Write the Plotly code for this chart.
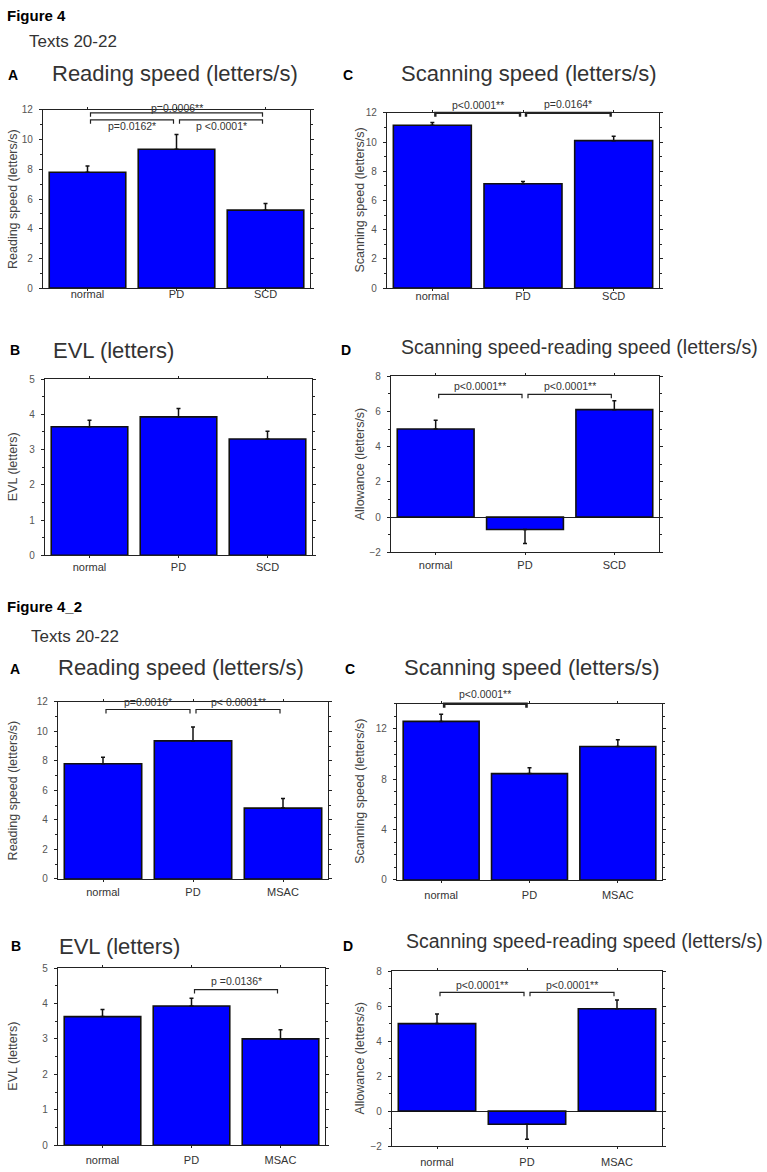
import plotly.graph_objects as go

# ---------------- data ----------------
CATS_SCD = ["normal", "PD", "SCD"]
CATS_MSAC = ["normal", "PD", "MSAC"]

READ_1 = [7.8, 9.35, 5.25]
READ_1_ERR = [0.42, 1.0, 0.45]
SCAN_1 = [11.15, 7.15, 10.1]
SCAN_1_ERR = [0.2, 0.15, 0.3]
EVL_1 = [3.65, 3.93, 3.3]
EVL_1_ERR = [0.18, 0.24, 0.22]
ALLOW_1 = [5.0, -0.7, 6.1]
ALLOW_1_ERR = [0.5, 0.8, 0.5]

READ_2 = [7.8, 9.35, 4.8]
READ_2_ERR = [0.45, 0.95, 0.65]
SCAN_2 = [12.6, 8.45, 10.6]
SCAN_2_ERR = [0.57, 0.47, 0.55]
EVL_2 = [3.63, 3.93, 3.0]
EVL_2_ERR = [0.2, 0.22, 0.26]
ALLOW_2 = [5.0, -0.75, 5.85]
ALLOW_2_ERR = [0.55, 0.85, 0.5]

P_READ_1 = [(0, 2, "p=0.0006**"), (0, 1, "p=0.0162*"), (1, 2, "p <0.0001*")]
P_SCAN_1 = [(0, 1, "p<0.0001**"), (1, 2, "p=0.0164*")]
P_ALLOW_1 = [(0, 1, "p<0.0001**"), (1, 2, "p<0.0001**")]
P_READ_2 = [(0, 1, "p=0.0016*"), (1, 2, "p< 0.0001**")]
P_SCAN_2 = [(0, 1, "p<0.0001**")]
P_EVL_2 = [(1, 2, "p =0.0136*")]
P_ALLOW_2 = [(0, 1, "p<0.0001**"), (1, 2, "p<0.0001**")]

# ---------------- layout helpers ----------------
W, H = 767, 1172
FONT = "Liberation Sans, Arial, sans-serif"


def fx(px):
    return px / W


def fy(py):
    return 1 - py / H


panels = [
    dict(cats=CATS_SCD, vals=READ_1, errs=READ_1_ERR, yr=[0, 12], dtick=2, minor=1,
         box=(43, 105, 310, 285), ytitle="Reading speed (letters/s)", side="L", xso=-6,
         br=P_READ_1, levels=[11.8, 11.33, 11.33], labs=[12.13, 10.9, 10.9], lw=1.2),
    dict(cats=CATS_SCD, vals=SCAN_1, errs=SCAN_1_ERR, yr=[0, 12], dtick=2, minor=1,
         box=(387, 108, 659, 285), ytitle="Scanning speed (letters/s)", side="R", xso=-4,
         br=P_SCAN_1, levels=[12.0, 12.0], labs=[12.55, 12.6], lw=2.4),
    dict(cats=CATS_SCD, vals=EVL_1, errs=EVL_1_ERR, yr=[0, 5], dtick=1, minor=0.5,
         box=(45, 377, 312, 555), ytitle="EVL (letters)", side="L", xso=-1,
         br=[], levels=[], labs=[], lw=1.2),
    dict(cats=CATS_SCD, vals=ALLOW_1, errs=ALLOW_1_ERR, yr=[-2, 8], dtick=2, minor=1,
         box=(391, 374, 659, 552), ytitle="Allowance (letters/s)", side="R", xso=0,
         br=P_ALLOW_1, levels=[6.97, 6.97], labs=[7.45, 7.45], lw=1.2),
    dict(cats=CATS_MSAC, vals=READ_2, errs=READ_2_ERR, yr=[0, 12], dtick=2, minor=1,
         box=(58, 703, 328, 882), ytitle="Reading speed (letters/s)", side="L", xso=1,
         br=P_READ_2, levels=[11.48, 11.48], labs=[12.0, 12.0], lw=1.2),
    dict(cats=CATS_MSAC, vals=SCAN_2, errs=SCAN_2_ERR, yr=[0, 14], dtick=4, minor=1,
         box=(397, 705, 662, 883), ytitle="Scanning speed (letters/s)", side="R", xso=3,
         br=P_SCAN_2, levels=[14.0], labs=[14.75], lw=2.6),
    dict(cats=CATS_MSAC, vals=EVL_2, errs=EVL_2_ERR, yr=[0, 5], dtick=1, minor=0.5,
         box=(58, 972, 325, 1151), ytitle="EVL (letters)", side="L", xso=2,
         br=P_EVL_2, levels=[4.39], labs=[4.64], lw=1.2),
    dict(cats=CATS_MSAC, vals=ALLOW_2, errs=ALLOW_2_ERR, yr=[-2, 8], dtick=2, minor=1,
         box=(392, 975, 662, 1152), ytitle="Allowance (letters/s)", side="R", xso=3,
         br=P_ALLOW_2, levels=[6.78, 6.78], labs=[7.23, 7.23], lw=1.2),
]

fig = go.Figure()
shapes = []
annotations = []


def data_to_px(p, xi, yv):
    l, t, r, b = p["box"]
    n = len(p["cats"])
    xpx = l + (xi + 0.5) / n * (r - l)
    y0, y1 = p["yr"]
    ypx = b - (yv - y0) / (y1 - y0) * (b - t)
    return xpx, ypx


for k, p in enumerate(panels):
    idx = k + 1
    xa = "x" if idx == 1 else f"x{idx}"
    ya = "y" if idx == 1 else f"y{idx}"
    l, t, r, b = p["box"]
    plus = [e if v >= 0 else 0 for v, e in zip(p["vals"], p["errs"])]
    minus = [e if v < 0 else 0 for v, e in zip(p["vals"], p["errs"])]
    fig.add_trace(go.Bar(
        x=p["cats"], y=p["vals"], xaxis=xa, yaxis=ya, width=0.86,
        marker=dict(color="#0000FF", line=dict(color="#111111", width=1.6)),
        error_y=dict(type="data", symmetric=False, array=plus, arrayminus=minus,
                     color="#111111", thickness=1.5, width=2),
        showlegend=False, hoverinfo="x+y",
    ))
    axcommon = dict(showline=True, linecolor="#222222", linewidth=1.2, mirror="allticks",
                    ticks="outside", tickcolor="#222222", showgrid=False)
    fig.layout[("xaxis" if idx == 1 else f"xaxis{idx}")] = dict(
        domain=[fx(l), fx(r)], anchor=ya, type="category", ticklen=2,
        range=[-0.5, len(p["cats"]) - 0.5], tickfont=dict(family=FONT, size=11, color="#333333"),
        ticklabelstandoff=p["xso"], **axcommon)
    fig.layout[("yaxis" if idx == 1 else f"yaxis{idx}")] = dict(
        domain=[fy(b), fy(t)], anchor=xa, range=p["yr"], dtick=p["dtick"], tick0=0, ticklen=3,
        tickfont=dict(family=FONT, size=10, color="#555555"), ticklabelstandoff=4,
        zeroline=p["yr"][0] < 0, zerolinecolor="#222222", zerolinewidth=1.2,
        minor=dict(dtick=p["minor"], ticks="outside", ticklen=2, tickcolor="#222222"),
        **axcommon)
    tx = 13 if p["side"] == "L" else 360
    annotations.append(dict(text=p["ytitle"], x=fx(tx), y=fy((t + b) / 2), xref="paper", yref="paper",
                            xanchor="center", yanchor="middle",
                            textangle=-90, showarrow=False,
                            font=dict(family=FONT, size=12.5, color="#444444")))
    for (i, j, lab), lev, ly in zip(p["br"], p["levels"], p["labs"]):
        x0, yy = data_to_px(p, i, lev)
        x1, _ = data_to_px(p, j, lev)
        x0 += 3
        x1 -= 3
        drop = 4
        path = f"M {fx(x0)},{fy(yy + drop)} L {fx(x0)},{fy(yy)} L {fx(x1)},{fy(yy)} L {fx(x1)},{fy(yy + drop)}"
        shapes.append(dict(type="path", path=path, xref="paper", yref="paper",
                           line=dict(color="#222222", width=p["lw"])))
        lx, lyp = data_to_px(p, (i + j) / 2, ly)
        annotations.append(dict(text=lab, x=fx(lx), y=fy(lyp), xref="paper", yref="paper",
                                xanchor="center", yanchor="middle",
                                showarrow=False, font=dict(family=FONT, size=10.5, color="#333333")))


def text(s, x, y, size, bold=False, color="#222222"):
    annotations.append(dict(text=(f"<b>{s}</b>" if bold else s), x=fx(x), y=fy(y), xref="paper",
                            yref="paper", xanchor="left", yanchor="middle", showarrow=False,
                            font=dict(family=FONT, size=size, color=color)))


text("Figure 4", 5, 10, 15, bold=True, color="#000000")
text("Texts 20-22", 27, 36, 17, color="#333333")
text("A", 6, 70, 14, bold=True, color="#000000")
text("Reading speed (letters/s)", 50, 68, 22, color="#333333")
text("C", 341, 70, 14, bold=True, color="#000000")
text("Scanning speed (letters/s)", 399, 68, 22, color="#333333")
text("B", 8, 348, 14, bold=True, color="#000000")
text("EVL (letters)", 51, 348, 22, color="#333333")
text("D", 339, 348, 14, bold=True, color="#000000")
text("Scanning speed-reading speed (letters/s)", 399, 345, 19.5, color="#333333")

text("Figure 4_2", 5, 607, 15, bold=True, color="#000000")
text("Texts 20-22", 29, 637, 17, color="#333333")
text("A", 8, 670, 14, bold=True, color="#000000")
text("Reading speed (letters/s)", 56, 668, 22, color="#333333")
text("C", 343, 670, 14, bold=True, color="#000000")
text("Scanning speed (letters/s)", 402, 668, 22, color="#333333")
text("B", 9, 950, 14, bold=True, color="#000000")
text("EVL (letters)", 57, 950, 22, color="#333333")
text("D", 341, 950, 14, bold=True, color="#000000")
text("Scanning speed-reading speed (letters/s)", 404, 945, 19.5, color="#333333")

fig.update_layout(
    width=W, height=H, margin=dict(l=0, r=0, t=0, b=0),
    paper_bgcolor="white", plot_bgcolor="white",
    shapes=shapes, annotations=annotations, showlegend=False,
    font=dict(family=FONT),
)

fig.write_html("out.html", config={"displayModeBar": False},
               post_script="document.body.style.margin='0';")
